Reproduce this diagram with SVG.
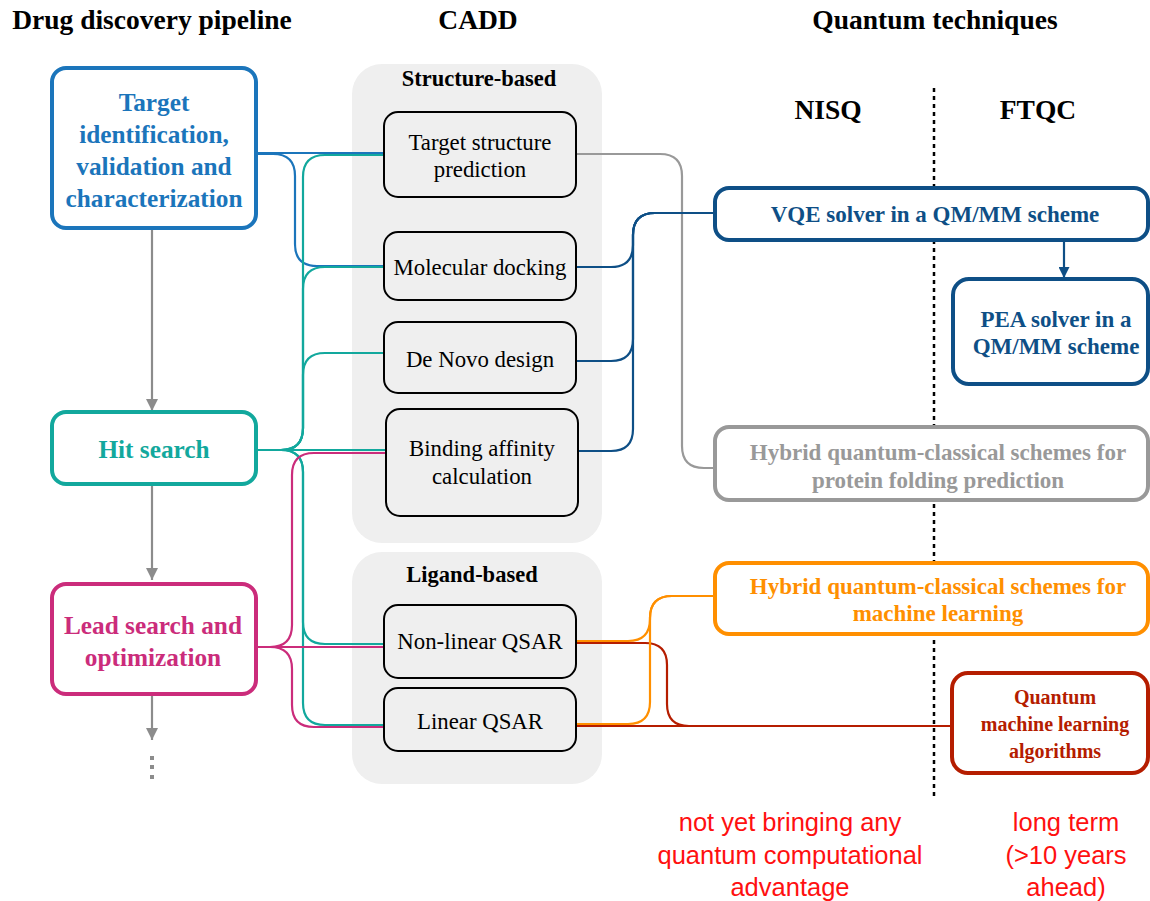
<svg xmlns="http://www.w3.org/2000/svg" width="1150" height="901" viewBox="0 0 1150 901">
<defs>
<style>
.hdr{font-family:"Liberation Serif","Times New Roman",serif;font-weight:bold;font-size:27.5px;fill:#000;text-anchor:middle}
.sub{font-family:"Liberation Serif","Times New Roman",serif;font-weight:bold;font-size:22.5px;fill:#000;text-anchor:middle}
.lt{font-family:"Liberation Serif","Times New Roman",serif;font-weight:bold;font-size:25.3px;text-anchor:middle}
.ct{font-family:"Liberation Serif","Times New Roman",serif;font-size:22.8px;fill:#000;text-anchor:middle}
.rt{font-family:"Liberation Serif","Times New Roman",serif;font-weight:bold;font-size:23px;text-anchor:middle}
.note{font-family:"Liberation Sans",Arial,sans-serif;font-size:25.5px;fill:#ff1010;text-anchor:middle}
.bg{fill:#efefef}
.cbox{fill:#efefef;stroke:#000;stroke-width:2}
.box{fill:#fff;stroke-width:4}
.con{fill:none;stroke-width:2.2}
</style>
<marker id="ag" viewBox="0 0 10 10" refX="10" refY="5" markerWidth="12" markerHeight="12" markerUnits="userSpaceOnUse" orient="auto"><path d="M0,0 L10,5 L0,10 z" fill="#8c8c8c"/></marker>
<marker id="ab" viewBox="0 0 10 10" refX="10" refY="5" markerWidth="11" markerHeight="11" markerUnits="userSpaceOnUse" orient="auto"><path d="M0,0 L10,5 L0,10 z" fill="#0e4f86"/></marker>
</defs>
<rect width="1150" height="901" fill="#fff"/>

<g id="headers">
<text class="hdr" x="152" y="29">Drug discovery pipeline</text>
<text class="hdr" x="478" y="29">CADD</text>
<text class="hdr" x="935" y="29">Quantum techniques</text>
<text class="hdr" x="828" y="119">NISQ</text>
<text class="hdr" x="1038" y="119">FTQC</text>
</g>

<g id="cadd-structure-bg">
<rect class="bg" x="352" y="64" width="250" height="479" rx="30"/>
<text class="sub" x="479" y="86">Structure-based</text>
</g>
<g id="cadd-ligand-bg">
<rect class="bg" x="352" y="552" width="250" height="232" rx="30"/>
<text class="sub" x="472" y="582">Ligand-based</text>
</g>

<line x1="934" y1="88" x2="934" y2="800" stroke="#000" stroke-width="2.5" stroke-dasharray="4,4"/>

<g id="connectors">
<g stroke="#8c8c8c" stroke-width="2.2">
<line x1="152" y1="230" x2="152" y2="411" marker-end="url(#ag)"/>
<line x1="152" y1="486" x2="152" y2="580" marker-end="url(#ag)"/>
<line x1="152" y1="696" x2="152" y2="740" marker-end="url(#ag)"/>
</g>
<g fill="#8c8c8c">
<rect x="150" y="756" width="4" height="4"/>
<rect x="150" y="765" width="4" height="4"/>
<rect x="150" y="775" width="4" height="4"/>
</g>
<g stroke="#1b75bb">
<path class="con" d="M256,153 H384"/>
<path class="con" d="M256,154 H273 Q295,154 295,176 V244 Q295,266 317,266 H384"/>
</g>
<g stroke="#12a89d">
<path class="con" d="M256,450 H281 Q303,450 303,428 V177 Q303,155 325,155 H384"/>
<path class="con" d="M256,450 H281 Q303,450 303,428 V289 Q303,267 325,267 H384"/>
<path class="con" d="M256,450 H281 Q303,450 303,428 V375 Q303,353 325,353 H384"/>
<path class="con" d="M256,450 H386"/>
<path class="con" d="M256,450 H281 Q303,450 303,472 V622 Q303,644 325,644 H384"/>
<path class="con" d="M256,450 H281 Q303,450 303,472 V703 Q303,725 325,725 H384"/>
</g>
<g stroke="#cb2c7b">
<path class="con" d="M256,647 H270 Q292,647 292,625 V475 Q292,453 314,453 H386"/>
<path class="con" d="M256,647 H384"/>
<path class="con" d="M256,647 H270 Q292,647 292,669 V705 Q292,727 314,727 H384"/>
</g>
<g stroke="#999999">
<path class="con" d="M576,154 H660 Q682,154 682,176 V446 Q682,468 704,468 H715"/>
</g>
<g stroke="#0e4f86">
<path class="con" d="M576,267 H611 Q633,267 633,245 V235 Q633,213 655,213 H715"/>
<path class="con" d="M576,361 H611 Q633,361 633,339 V235 Q633,213 655,213 H715"/>
<path class="con" d="M578,451 H611 Q633,451 633,429 V235 Q633,213 655,213 H715"/>
<line x1="1064" y1="240" x2="1064" y2="278" stroke-width="2.2" marker-end="url(#ab)"/>
</g>
<g stroke="#b51d00">
<path class="con" d="M576,643 H645 Q667,643 667,665 V704 Q667,726 689,726 H952"/>
<path class="con" d="M576,726 H952"/>
</g>
<g stroke="#ff8f00">
<path class="con" d="M576,641 H628 Q650,641 650,619 V618 Q650,596 672,596 H715"/>
<path class="con" d="M576,724 H628 Q650,724 650,702 V618 Q650,596 672,596 H715"/>
</g>
</g>

<g id="target-identification">
<rect class="box" x="52" y="68" width="204" height="160" rx="14" stroke="#1b75bb"/>
<text class="lt" fill="#1b75bb"><tspan x="154" y="111">Target</tspan><tspan x="154" y="143">identification,</tspan><tspan x="154" y="175">validation and</tspan><tspan x="154" y="207">characterization</tspan></text>
</g>
<g id="hit-search">
<rect class="box" x="52" y="412" width="204" height="72" rx="14" stroke="#12a89d"/>
<text class="lt" fill="#12a89d" x="154" y="458">Hit search</text>
</g>
<g id="lead-search">
<rect class="box" x="52" y="584" width="204" height="110" rx="14" stroke="#cb2c7b"/>
<text class="lt" fill="#cb2c7b"><tspan x="153" y="634">Lead search and</tspan><tspan x="153" y="666">optimization</tspan></text>
</g>

<g id="target-structure-prediction">
<rect class="cbox" x="384" y="112" width="192" height="85" rx="14"/>
<text class="ct"><tspan x="480" y="150">Target structure</tspan><tspan x="480" y="177">prediction</tspan></text>
</g>
<g id="molecular-docking">
<rect class="cbox" x="384" y="232" width="192" height="68" rx="14"/>
<text class="ct" x="480" y="275">Molecular docking</text>
</g>
<g id="de-novo-design">
<rect class="cbox" x="384" y="322" width="192" height="71" rx="14"/>
<text class="ct" x="480" y="367">De Novo design</text>
</g>
<g id="binding-affinity">
<rect class="cbox" x="386" y="409" width="192" height="107" rx="14"/>
<text class="ct"><tspan x="482" y="456">Binding affinity</tspan><tspan x="482" y="484">calculation</tspan></text>
</g>
<g id="non-linear-qsar">
<rect class="cbox" x="384" y="605" width="192" height="73" rx="14"/>
<text class="ct" x="480" y="649">Non-linear QSAR</text>
</g>
<g id="linear-qsar">
<rect class="cbox" x="384" y="688" width="192" height="63" rx="14"/>
<text class="ct" x="480" y="729">Linear QSAR</text>
</g>

<g id="vqe">
<rect class="box" x="715" y="188" width="433" height="52" rx="14" stroke="#0e4f86"/>
<text class="rt" fill="#0e4f86" x="935" y="222">VQE solver in a QM/MM scheme</text>
</g>
<g id="pea">
<rect class="box" x="953" y="279" width="195" height="105" rx="16" stroke="#0e4f86"/>
<text class="rt" fill="#0e4f86"><tspan x="1056" y="327">PEA solver in a</tspan><tspan x="1056" y="354">QM/MM scheme</tspan></text>
</g>
<g id="hybrid-protein-folding">
<rect class="box" x="715" y="427" width="433" height="73" rx="14" stroke="#999999"/>
<text class="rt" fill="#999999"><tspan x="938" y="460">Hybrid quantum-classical schemes for</tspan><tspan x="938" y="488">protein folding prediction</tspan></text>
</g>
<g id="hybrid-ml">
<rect class="box" x="715" y="563" width="433" height="71" rx="14" stroke="#ff8f00"/>
<text class="rt" fill="#ff8f00"><tspan x="938" y="594">Hybrid quantum-classical schemes for</tspan><tspan x="938" y="621">machine learning</tspan></text>
</g>
<g id="quantum-ml">
<rect class="box" x="952" y="673" width="196" height="100" rx="16" stroke="#b51d00"/>
<text class="rt" fill="#b51d00" style="font-size:20px"><tspan x="1055" y="704">Quantum</tspan><tspan x="1055" y="731">machine learning</tspan><tspan x="1055" y="758">algorithms</tspan></text>
</g>

<g id="notes">
<text class="note"><tspan x="790" y="831">not yet bringing any</tspan><tspan x="790" y="864">quantum computational</tspan><tspan x="790" y="896">advantage</tspan></text>
<text class="note"><tspan x="1066" y="831">long term</tspan><tspan x="1066" y="864">(&gt;10 years</tspan><tspan x="1066" y="896">ahead)</tspan></text>
</g>
</svg>
